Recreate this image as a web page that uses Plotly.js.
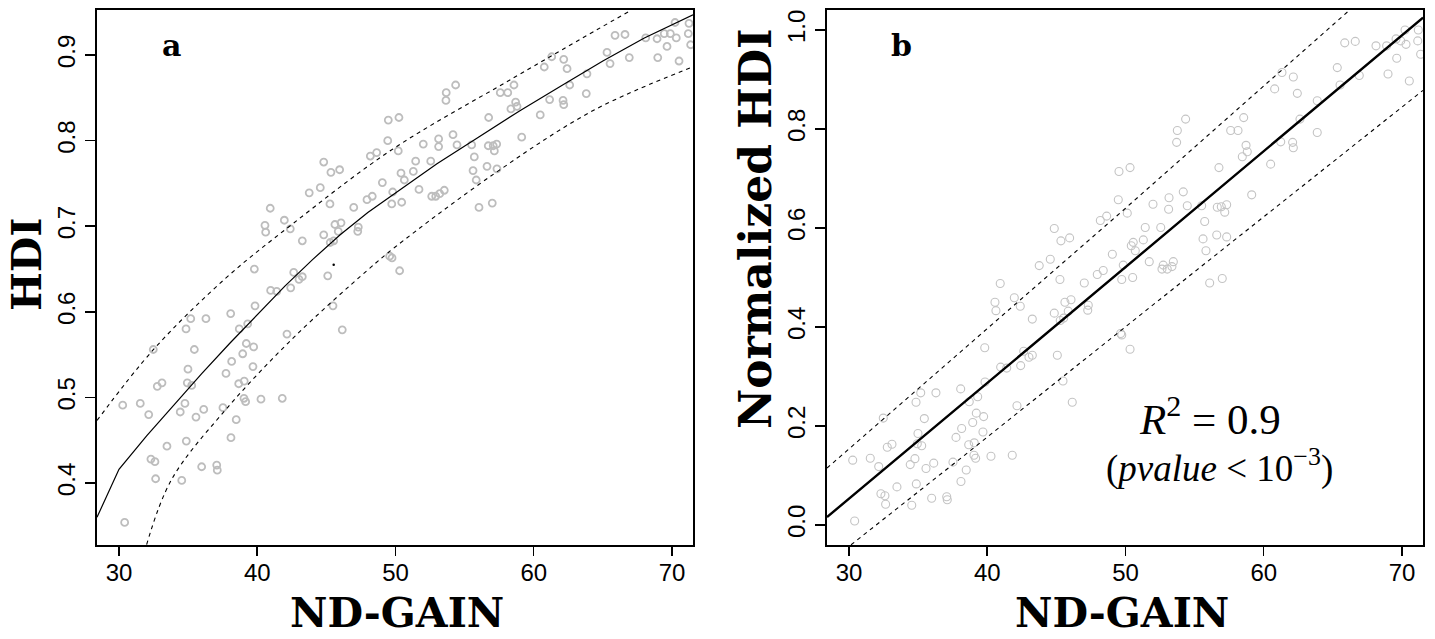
<!DOCTYPE html>
<html>
<head>
<meta charset="utf-8">
<script src="https://cdn.plot.ly/plotly-3.0.1.min.js"></script>
<style>html,body{margin:0;padding:0;background:#fff;}#chart{width:1435px;height:639px;}</style>
</head>
<body>
<div id="chart"></div>
<script>
// ---------- Panel a : HDI vs ND-GAIN ----------
const aX = [49.48,49.44,44.81,45.33,45.96,48.18,48.64,43.76,44.56,45.26,40.94,40.56,40.61,41.96,42.39,43.26,44.81,45.28,45.62,46.06,45.86,45.53,46.98,47.94,48.32,49.05,49.80,49.73,47.31,47.27,
  39.79,42.64,43.02,43.26,45.10,49.58,49.75,40.97,41.41,42.42,45.48,46.15,39.84,38.08,35.19,36.29,34.85,38.70,39.31,42.15,32.48,35.45,39.21,39.74,38.95,34.99,38.15,39.69,37.74,34.94,
  35.26,32.77,33.11,38.66,39.06,30.27,31.54,32.15,34.77,34.43,35.57,36.13,37.52,39.04,39.16,40.27,41.81,38.48,38.10,33.47,34.87,32.31,32.60,32.65,34.54,35.98,37.07,37.11,30.41,
  50.25,50.20,50.40,50.64,51.29,51.46,52.01,52.55,53.12,53.12,54.16,54.45,55.51,55.70,55.61,55.84,56.62,57.34,56.74,56.71,57.07,57.32,57.15,53.67,53.65,54.35,57.58,58.12,58.57,58.35,
  58.69,58.79,59.13,60.47,60.76,61.30,62.17,62.41,61.15,62.12,62.17,62.60,63.85,63.80,65.30,65.52,65.88,66.60,66.91,68.10,68.92,69.44,69.88,70.31,70.22,68.97,69.64,70.51,71.23,71.18,
  71.35,50.30,56.04,57.00,50.45,51.70,52.62,52.91,53.20,53.53];
const aY = [0.824,0.800,0.775,0.763,0.766,0.782,0.786,0.739,0.745,0.726,0.721,0.701,0.693,0.707,0.697,0.683,0.690,0.681,0.702,0.704,0.694,0.683,0.722,0.731,0.735,0.751,0.740,0.726,0.699,0.694,
  0.650,0.646,0.638,0.641,0.642,0.665,0.663,0.625,0.624,0.628,0.607,0.579,0.607,0.598,0.592,0.592,0.580,0.580,0.586,0.574,0.556,0.556,0.563,0.559,0.551,0.533,0.542,0.536,0.528,0.517,
  0.514,0.513,0.517,0.516,0.519,0.491,0.493,0.480,0.493,0.483,0.477,0.486,0.488,0.499,0.495,0.498,0.499,0.474,0.453,0.443,0.449,0.428,0.425,0.405,0.403,0.419,0.421,0.415,0.354,
  0.827,0.788,0.762,0.754,0.764,0.776,0.796,0.776,0.802,0.793,0.807,0.795,0.795,0.781,0.765,0.754,0.770,0.767,0.827,0.794,0.794,0.796,0.788,0.856,0.847,0.865,0.856,0.856,0.865,0.837,
  0.845,0.840,0.804,0.830,0.886,0.898,0.895,0.884,0.848,0.847,0.842,0.865,0.878,0.855,0.903,0.890,0.923,0.924,0.897,0.920,0.919,0.925,0.925,0.920,0.938,0.897,0.910,0.893,0.937,0.925,
  0.912,0.648,0.722,0.727,0.728,0.743,0.735,0.735,0.738,0.742];
// fitted curve and prediction band
const aFitX = [28.41,30,32,34,36,38,40,42,44,46,48,50,53,56,59,62,65,68,71.52];
const aFitY = [0.360,0.416,0.455,0.492,0.528,0.563,0.597,0.630,0.661,0.690,0.716,0.739,0.773,0.804,0.835,0.864,0.893,0.920,0.947];
const aUpX = [28.41,32.5,37.7,42.5,49.7,58.4,67.0];
const aUpY = [0.473,0.556,0.639,0.702,0.789,0.872,0.952];
const aLoX = [32.0,33.8,37.9,42.7,48.0,50.0,57.2,64.4,71.5];
const aLoY = [0.328,0.404,0.489,0.571,0.649,0.676,0.762,0.836,0.886];
const aDotX = [45.53];
const aDotY = [0.655];

// ---------- Panel b : Normalized HDI vs ND-GAIN ----------
const bX = [49.53,49.48,44.85,45.33,45.96,48.18,48.64,43.76,44.56,49.05,49.84,40.94,40.56,40.63,41.96,42.39,45.26,47.02,47.96,48.39,49.73,43.26,44.85,45.28,45.62,46.06,45.86,45.53,47.31,47.27,
  39.82,42.64,43.02,43.26,45.07,40.97,41.41,42.42,45.48,46.15,49.65,49.73,39.84,38.08,35.19,36.29,34.85,38.70,39.31,42.15,32.48,35.45,39.21,39.74,38.95,34.99,38.15,39.69,37.74,34.94,
  35.26,32.77,33.11,38.66,39.06,30.27,31.54,32.15,34.77,34.43,35.57,36.13,37.52,39.04,39.16,40.27,41.81,38.48,38.10,33.47,34.87,32.31,32.60,32.65,34.54,35.98,37.07,37.11,30.41,
  70.22,71.18,69.57,69.91,70.29,71.14,71.35,68.12,68.89,65.86,66.62,69.62,68.99,70.53,66.91,65.32,65.52,61.32,62.14,62.43,60.79,63.87,62.62,63.87,54.35,53.75,53.70,57.61,58.14,58.55,
  58.72,58.81,58.45,61.23,62.09,62.14,60.50,56.76,59.13,50.33,50.13,51.99,53.15,53.12,54.18,54.47,55.51,56.64,56.93,57.32,57.18,55.73,51.43,52.55,50.56,50.42,50.71,51.29,55.61,55.82,
  56.60,57.32,51.72,52.73,52.64,53.02,53.46,53.36,50.52,56.09,57.00,50.33];
const bY = [0.714,0.657,0.599,0.574,0.580,0.615,0.624,0.524,0.537,0.547,0.525,0.488,0.450,0.433,0.459,0.442,0.496,0.489,0.506,0.514,0.496,0.416,0.428,0.413,0.450,0.455,0.432,0.418,0.444,0.434,
  0.358,0.351,0.339,0.343,0.343,0.319,0.317,0.322,0.291,0.248,0.387,0.384,0.289,0.275,0.267,0.267,0.248,0.249,0.259,0.241,0.216,0.215,0.226,0.219,0.207,0.185,0.195,0.188,0.177,0.164,
  0.160,0.157,0.163,0.162,0.166,0.131,0.135,0.118,0.134,0.122,0.114,0.125,0.127,0.141,0.135,0.139,0.141,0.111,0.088,0.077,0.083,0.063,0.059,0.042,0.040,0.054,0.057,0.051,0.008,
  1.000,1.000,0.982,0.978,0.971,0.978,0.951,0.968,0.968,0.974,0.977,0.943,0.911,0.897,0.908,0.924,0.889,0.914,0.905,0.872,0.881,0.857,0.820,0.793,0.820,0.797,0.773,0.797,0.797,0.823,
  0.767,0.754,0.744,0.774,0.773,0.762,0.729,0.722,0.667,0.722,0.630,0.648,0.661,0.638,0.673,0.645,0.645,0.642,0.643,0.647,0.632,0.613,0.601,0.601,0.571,0.564,0.554,0.576,0.578,0.554,
  0.586,0.582,0.532,0.525,0.517,0.517,0.532,0.522,0.500,0.489,0.498,0.355];
const bFitX = [28.41,39.84,71.52];
const bFitY = [0.016,0.283,1.025];
const bUpX = [28.41,49.6,66.2];
const bUpY = [0.115,0.630,1.040];
const bLoX = [30.15,37.91,55.15,71.52];
const bLoY = [-0.040,0.131,0.515,0.878];

const xTicks = [30,40,50,60,70];
const aTicks = [0.4,0.5,0.6,0.7,0.8,0.9];
const bTicks = [0.0,0.2,0.4,0.6,0.8,1.0];

const GREY = '#bdbdbd';
const traces = [
  {x:aX, y:aY, xaxis:'x', yaxis:'y', type:'scatter', mode:'markers',
   marker:{symbol:'circle-open', size:7, color:GREY, line:{width:1.8, color:GREY}}},
  {x:aFitX, y:aFitY, xaxis:'x', yaxis:'y', type:'scatter', mode:'lines', line:{color:'#000', width:1.2}},
  {x:aUpX, y:aUpY, xaxis:'x', yaxis:'y', type:'scatter', mode:'lines', line:{color:'#000', width:1.1, dash:'4px,4px', shape:'spline'}},
  {x:aLoX, y:aLoY, xaxis:'x', yaxis:'y', type:'scatter', mode:'lines', line:{color:'#000', width:1.1, dash:'4px,4px', shape:'spline'}},
  {x:aDotX, y:aDotY, xaxis:'x', yaxis:'y', type:'scatter', mode:'markers', marker:{size:2.5, color:'#000'}},
  {x:bX, y:bY, xaxis:'x2', yaxis:'y2', type:'scatter', mode:'markers',
   marker:{symbol:'circle-open', size:8, color:'#c4c4c4', line:{width:1.1, color:'#c4c4c4'}}},
  {x:bFitX, y:bFitY, xaxis:'x2', yaxis:'y2', type:'scatter', mode:'lines', line:{color:'#000', width:2.4}},
  {x:bUpX, y:bUpY, xaxis:'x2', yaxis:'y2', type:'scatter', mode:'lines', line:{color:'#000', width:1.1, dash:'4px,4px'}},
  {x:bLoX, y:bLoY, xaxis:'x2', yaxis:'y2', type:'scatter', mode:'lines', line:{color:'#000', width:1.1, dash:'4px,4px'}}
];

const W = 1435, H = 639;
const px = v => v / W, py = v => 1 - v / H;
const tickFont = {family:'Liberation Sans, Arial, sans-serif', size:24, color:'#000'};
function xa(domain){
  return {domain:domain, range:[28.41,71.52], tickvals:xTicks, ticks:'outside', ticklen:9, tickwidth:1.5, tickcolor:'#000',
    ticklabelstandoff:-4,
    showline:true, linewidth:2, linecolor:'#000', mirror:true, showgrid:false, zeroline:false, tickfont:tickFont, fixedrange:true};
}
function ya(range, ticks, anchor){
  return {domain:[py(545), py(10)], range:range, tickvals:ticks, tickformat:'.1f', ticks:'outside', ticklen:10, tickwidth:1.5, tickcolor:'#000',
    tickangle:-90, showline:true, linewidth:2, linecolor:'#000', mirror:true, showgrid:false, zeroline:false, tickfont:tickFont, anchor:anchor, fixedrange:true};
}
const titleFont = {family:'DejaVu Serif, serif', size:41, color:'#000'};
const layout = {
  width:W, height:H, margin:{l:0,r:0,t:0,b:0}, paper_bgcolor:'#fff', plot_bgcolor:'#fff', showlegend:false,
  xaxis: Object.assign(xa([px(97), px(693)]), {anchor:'y'}),
  yaxis: ya([0.3276,0.9526], aTicks, 'x'),
  xaxis2: Object.assign(xa([px(827), px(1423)]), {anchor:'y2'}),
  yaxis2: ya([-0.0404,1.0404], bTicks, 'x2'),
  annotations:[
    {xref:'paper', yref:'paper', x:px(397), y:py(613), text:'<b>ND-GAIN</b>', showarrow:false, font:titleFont, xanchor:'center', yanchor:'middle'},
    {xref:'paper', yref:'paper', x:px(1122), y:py(613), text:'<b>ND-GAIN</b>', showarrow:false, font:titleFont, xanchor:'center', yanchor:'middle'},
    {xref:'paper', yref:'paper', x:px(27), y:py(265), text:'<b>HDI</b>', textangle:-90, showarrow:false, font:titleFont, xanchor:'center', yanchor:'middle'},
    {xref:'paper', yref:'paper', x:px(755), y:py(229), text:'<b>Normalized HDI</b>', textangle:-90, showarrow:false, font:{family:'DejaVu Serif, serif', size:44, color:'#000'}, xanchor:'center', yanchor:'middle'},
    {xref:'paper', yref:'paper', x:px(171), y:py(45), text:'<b>a</b>', showarrow:false, font:{family:'DejaVu Serif, serif', size:30, color:'#000'}, xanchor:'center', yanchor:'middle'},
    {xref:'paper', yref:'paper', x:px(901), y:py(45), text:'<b>b</b>', showarrow:false, font:{family:'DejaVu Serif, serif', size:30, color:'#000'}, xanchor:'center', yanchor:'middle'},
    {xref:'paper', yref:'paper', x:px(1210), y:py(416), text:'<i>R</i><sup>2</sup> = 0.9', showarrow:false, font:{family:'Liberation Serif, serif', size:43, color:'#000'}, xanchor:'center', yanchor:'middle'},
    {xref:'paper', yref:'paper', x:px(1219), y:py(466), text:'(<i>pvalue</i> &lt; 10<sup>−3</sup>)', showarrow:false, font:{family:'Liberation Serif, serif', size:37, color:'#000'}, xanchor:'center', yanchor:'middle'}
  ]
};
Plotly.newPlot('chart', traces, layout, {displayModeBar:false, staticPlot:true});
</script>
</body>
</html>
